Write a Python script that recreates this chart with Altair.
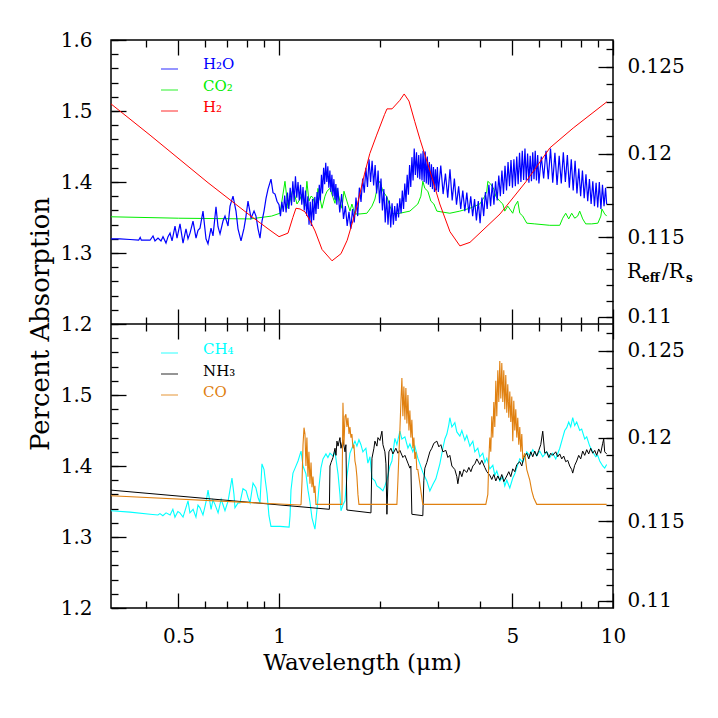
import altair as alt
import pandas as pd

FONT = "DejaVu Serif"

# ---------------- top panel data ----------------
h2o_wl = [0.314, 0.334, 0.358, 0.380, 0.384, 0.387, 0.411, 0.4195, 0.4253, 0.4342,
          0.4432, 0.4494, 0.4588, 0.4652, 0.4717, 0.4783, 0.4882, 0.4950, 0.5053, 0.5159,
          0.5266, 0.5339, 0.5414, 0.5527, 0.5643, 0.5721, 0.5800, 0.5921, 0.6045, 0.6129,
          0.6257, 0.6344, 0.6476, 0.6566, 0.6658, 0.6797, 0.6891, 0.7035, 0.7133, 0.7282,
          0.7434, 0.7537, 0.7695, 0.7857, 0.7965, 0.8075, 0.8245, 0.8418, 0.8533, 0.8652,
          0.8772, 0.8894, 0.9018, 0.9143, 0.9270, 0.9463, 0.9594, 0.9728, 0.9863,
          1.00, 1.01, 1.02, 1.03, 1.04, 1.05, 1.06, 1.07, 1.08, 1.09,
          1.10, 1.11, 1.12, 1.13, 1.14, 1.15, 1.16, 1.17, 1.18, 1.19,
          1.20, 1.21, 1.22, 1.23, 1.24, 1.25, 1.26, 1.27, 1.28, 1.29,
          1.30, 1.31, 1.32, 1.33, 1.34, 1.35, 1.36, 1.37, 1.38, 1.39,
          1.40, 1.41, 1.42, 1.43, 1.44, 1.45, 1.46, 1.47, 1.48, 1.49,
          1.50, 1.52, 1.54, 1.56, 1.58, 1.60, 1.62, 1.64, 1.66, 1.68,
          1.70, 1.72, 1.74, 1.76, 1.78, 1.80, 1.82, 1.84, 1.86, 1.88,
          1.90, 1.92, 1.94, 1.96, 1.98, 2.00, 2.02, 2.04, 2.06, 2.08,
          2.10, 2.12, 2.14, 2.16, 2.18, 2.20, 2.22, 2.24, 2.26, 2.28,
          2.30, 2.32, 2.34, 2.36, 2.38, 2.40, 2.42, 2.44, 2.46, 2.48,
          2.50, 2.52, 2.54, 2.56, 2.58, 2.60, 2.62, 2.64, 2.66, 2.68,
          2.70, 2.72, 2.74, 2.76, 2.78, 2.80, 2.82, 2.84, 2.86, 2.88,
          2.90, 2.92, 2.94, 2.96, 2.98, 3.00, 3.05, 3.10, 3.15, 3.20,
          3.25, 3.30, 3.35, 3.40, 3.45, 3.50, 3.55, 3.60, 3.65, 3.70,
          3.75, 3.80, 3.85, 3.90, 3.95, 4.00, 4.05, 4.10, 4.15, 4.20,
          4.25, 4.30, 4.35, 4.40, 4.45, 4.50, 4.55, 4.60, 4.65, 4.70,
          4.75, 4.80, 4.85, 4.90, 4.95, 5.00, 5.05, 5.10, 5.15, 5.20,
          5.25, 5.30, 5.35, 5.40, 5.45, 5.50, 5.55, 5.60, 5.65, 5.70,
          5.75, 5.80, 5.85, 5.90, 5.95, 6.00, 6.10, 6.20, 6.30, 6.40,
          6.50, 6.60, 6.70, 6.80, 6.90, 7.00, 7.10, 7.20, 7.30, 7.40,
          7.50, 7.60, 7.70, 7.80, 7.90, 8.00, 8.10, 8.20, 8.30, 8.40,
          8.50, 8.60, 8.70, 8.80, 8.90, 9.00, 9.10, 9.20, 9.30, 9.40,
          9.50, 9.57]
h2o_val = [1.320, 1.320, 1.319, 1.318, 1.322, 1.318, 1.318, 1.324, 1.317, 1.321,
           1.317, 1.323, 1.314, 1.323, 1.328, 1.317, 1.338, 1.321, 1.341, 1.314,
           1.334, 1.320, 1.328, 1.345, 1.321, 1.332, 1.335, 1.359, 1.320, 1.313,
           1.335, 1.324, 1.365, 1.337, 1.327, 1.345, 1.352, 1.338, 1.366, 1.380,
           1.359, 1.334, 1.317, 1.335, 1.352, 1.373, 1.349, 1.359, 1.352, 1.334,
           1.321, 1.345, 1.359, 1.377, 1.390, 1.404, 1.385, 1.383, 1.373,
           1.368, 1.352, 1.372, 1.358, 1.381, 1.357, 1.385, 1.362, 1.392, 1.367,
           1.401, 1.372, 1.408, 1.378, 1.400, 1.374, 1.396, 1.368, 1.393, 1.360,
           1.388, 1.352, 1.380, 1.340, 1.372, 1.338, 1.376, 1.346, 1.379, 1.355,
           1.386, 1.362, 1.396, 1.374, 1.410, 1.384, 1.420, 1.397, 1.427, 1.400,
           1.422, 1.392, 1.416, 1.386, 1.410, 1.380, 1.404, 1.375, 1.397, 1.368,
           1.392, 1.357, 1.383, 1.348, 1.366, 1.338, 1.358, 1.334, 1.362, 1.343,
           1.378, 1.352, 1.392, 1.372, 1.405, 1.385, 1.420, 1.393, 1.432, 1.400,
           1.430, 1.395, 1.424, 1.384, 1.416, 1.370, 1.405, 1.360, 1.390, 1.343,
           1.380, 1.340, 1.374, 1.336, 1.370, 1.340, 1.366, 1.345, 1.370, 1.350,
           1.377, 1.356, 1.388, 1.362, 1.398, 1.372, 1.410, 1.382, 1.424, 1.393,
           1.435, 1.402, 1.447, 1.410, 1.442, 1.406, 1.438, 1.404, 1.440, 1.402,
           1.444, 1.400, 1.443, 1.398, 1.436, 1.396, 1.428, 1.393, 1.425, 1.390,
           1.421, 1.386, 1.418, 1.388, 1.421, 1.386, 1.423, 1.383, 1.412, 1.378,
           1.418, 1.374, 1.405, 1.368, 1.394, 1.362, 1.388, 1.359, 1.385, 1.356,
           1.380, 1.352, 1.376, 1.346, 1.373, 1.342, 1.378, 1.352, 1.386, 1.362,
           1.396, 1.366, 1.398, 1.368, 1.401, 1.374, 1.409, 1.380, 1.416, 1.383,
           1.423, 1.388, 1.428, 1.394, 1.431, 1.392, 1.432, 1.394, 1.436, 1.397,
           1.441, 1.400, 1.444, 1.403, 1.447, 1.402, 1.440, 1.399, 1.437, 1.401,
           1.442, 1.404, 1.444, 1.402, 1.438, 1.398, 1.436, 1.405, 1.444, 1.404,
           1.447, 1.399, 1.441, 1.396, 1.437, 1.398, 1.442, 1.400, 1.438, 1.392,
           1.432, 1.388, 1.430, 1.384, 1.419, 1.380, 1.416, 1.377, 1.411, 1.373,
           1.404, 1.369, 1.401, 1.366, 1.399, 1.364, 1.400, 1.362, 1.396, 1.366,
           1.392, 1.369]

co2_wl = [0.314, 0.50, 0.82, 0.95, 1.007, 1.042, 1.064, 1.079, 1.101, 1.132,
          1.156, 1.172, 1.196, 1.212, 1.229, 1.247, 1.264, 1.290, 1.308, 1.345,
          1.373, 1.392, 1.421, 1.451, 1.471, 1.491, 1.522, 1.543, 1.565, 1.597,
          1.631, 1.653, 1.688, 1.747, 1.833, 1.898, 1.937, 1.978, 2.005, 2.047,
          2.104, 2.148, 2.193, 2.301, 2.465, 2.604, 2.659, 2.695, 2.733, 2.790,
          2.849, 2.908, 2.969, 3.052, 3.247, 3.479, 3.727, 3.992, 4.132, 4.190,
          4.219, 4.306, 4.397, 4.458, 4.582, 4.678, 4.742, 4.841, 5.009, 5.081,
          5.186, 5.259, 5.369, 5.519, 5.831, 6.466, 6.927, 7.070, 7.219, 7.369,
          7.523, 7.680, 7.839, 7.949, 8.115, 8.285, 8.635, 9.009, 9.198, 9.262,
          9.443, 9.574]
co2_val = [1.351, 1.349, 1.348, 1.352, 1.356, 1.401, 1.363, 1.373, 1.391, 1.369,
           1.376, 1.383, 1.366, 1.401, 1.373, 1.380, 1.378, 1.363, 1.391, 1.363,
           1.380, 1.387, 1.391, 1.378, 1.370, 1.391, 1.373, 1.363, 1.387, 1.373,
           1.359, 1.369, 1.355, 1.355, 1.356, 1.366, 1.376, 1.397, 1.401, 1.387,
           1.379, 1.366, 1.355, 1.356, 1.359, 1.369, 1.380, 1.401, 1.391, 1.387,
           1.373, 1.369, 1.359, 1.358, 1.356, 1.359, 1.363, 1.369, 1.380, 1.387,
           1.401, 1.397, 1.390, 1.380, 1.373, 1.369, 1.359, 1.366, 1.356, 1.366,
           1.373, 1.356, 1.352, 1.342, 1.341, 1.339, 1.339, 1.349, 1.356, 1.348,
           1.356, 1.349, 1.352, 1.359, 1.348, 1.341, 1.341, 1.342, 1.352, 1.362,
           1.355, 1.352]

h2_wl = [0.314, 0.411, 0.613, 0.824, 0.940, 1.000, 1.064, 1.100, 1.124, 1.156,
         1.196, 1.240, 1.282, 1.345, 1.441, 1.533, 1.600, 1.700, 1.800, 1.870,
         1.960, 2.070, 2.105, 2.180, 2.300, 2.370, 2.450, 2.550, 2.643, 2.830,
         3.030, 3.250, 3.480, 3.730, 4.590, 5.500, 6.470, 7.600, 9.590]
h2_val = [1.510, 1.466, 1.399, 1.352, 1.332, 1.323, 1.328, 1.350, 1.363, 1.362,
          1.358, 1.345, 1.331, 1.305, 1.289, 1.299, 1.318, 1.360, 1.410, 1.440,
          1.466, 1.495, 1.503, 1.503, 1.515, 1.524, 1.514, 1.485, 1.460, 1.416,
          1.369, 1.330, 1.310, 1.315, 1.355, 1.401, 1.448, 1.476, 1.513]

# ---------------- bottom panel data ----------------
ch4_wl = [0.314, 0.358, 0.411, 0.434, 0.440, 0.449, 0.459, 0.472, 0.481, 0.488,
          0.498, 0.505, 0.516, 0.527, 0.534, 0.541, 0.553, 0.564, 0.572, 0.580,
          0.592, 0.605, 0.613, 0.626, 0.634, 0.643, 0.657, 0.671, 0.680, 0.689,
          0.704, 0.713, 0.723, 0.733, 0.738, 0.754, 0.764, 0.780, 0.797, 0.807,
          0.819, 0.836, 0.853, 0.865, 0.877, 0.889, 0.902, 0.908, 0.921, 0.933,
          0.946, 1.007, 1.072, 1.079, 1.086, 1.101, 1.117, 1.140, 1.164, 1.180,
          1.204, 1.221, 1.238, 1.255, 1.281, 1.299, 1.317, 1.335, 1.354, 1.382,
          1.401, 1.421, 1.451, 1.471, 1.502, 1.522, 1.533, 1.554, 1.576, 1.597,
          1.631, 1.653, 1.688, 1.711, 1.735, 1.759, 1.783, 1.820, 1.845, 1.872,
          1.898, 1.937, 1.964, 2.005, 2.047, 2.075, 2.104, 2.148, 2.178, 2.223,
          2.254, 2.301, 2.333, 2.382, 2.432, 2.465, 2.516, 2.551, 2.604, 2.641,
          2.695, 2.733, 2.771, 2.829, 2.888, 2.949, 3.031, 3.094, 3.137, 3.181,
          3.224, 3.247, 3.293, 3.361, 3.407, 3.479, 3.527, 3.600, 3.650, 3.727,
          3.805, 3.857, 3.938, 3.992, 4.075, 4.132, 4.190, 4.277, 4.367, 4.427,
          4.488, 4.582, 4.678, 4.742, 4.808, 4.909, 5.011, 5.081, 5.186, 5.259,
          5.369, 5.519, 5.634, 5.751, 5.911, 6.035, 6.161, 6.333, 6.466, 6.601,
          6.738, 6.927, 7.070, 7.169, 7.268, 7.369, 7.471, 7.575, 7.680, 7.786,
          7.949, 8.059, 8.228, 8.342, 8.516, 8.694, 8.876, 8.999, 9.124, 9.314,
          9.443, 9.574]
ch4_val = [1.337, 1.335, 1.332, 1.331, 1.333, 1.330, 1.334, 1.331, 1.339, 1.328,
           1.336, 1.334, 1.328, 1.342, 1.351, 1.334, 1.339, 1.328, 1.345, 1.341,
           1.331, 1.350, 1.366, 1.339, 1.352, 1.346, 1.334, 1.353, 1.345, 1.337,
           1.351, 1.366, 1.383, 1.360, 1.341, 1.348, 1.348, 1.368, 1.365, 1.356,
           1.348, 1.376, 1.369, 1.356, 1.348, 1.403, 1.395, 1.383, 1.361, 1.330,
           1.315, 1.315, 1.314, 1.330, 1.366, 1.390, 1.397, 1.407, 1.421, 1.400,
           1.389, 1.366, 1.349, 1.327, 1.311, 1.338, 1.370, 1.397, 1.410, 1.417,
           1.412, 1.418, 1.414, 1.420, 1.389, 1.360, 1.337, 1.345, 1.351, 1.385,
           1.418, 1.425, 1.435, 1.428, 1.437, 1.430, 1.420, 1.425, 1.404, 1.413,
           1.383, 1.379, 1.372, 1.369, 1.365, 1.372, 1.380, 1.400, 1.407, 1.439,
           1.430, 1.449, 1.438, 1.441, 1.425, 1.431, 1.420, 1.428, 1.411, 1.403,
           1.391, 1.385, 1.379, 1.365, 1.374, 1.382, 1.403, 1.425, 1.438, 1.445,
           1.458, 1.468, 1.455, 1.461, 1.448, 1.442, 1.450, 1.436, 1.443, 1.428,
           1.435, 1.420, 1.425, 1.413, 1.418, 1.405, 1.411, 1.396, 1.401, 1.387,
           1.393, 1.379, 1.385, 1.372, 1.380, 1.369, 1.383, 1.389, 1.402, 1.410,
           1.405, 1.420, 1.414, 1.423, 1.414, 1.421, 1.413, 1.420, 1.412, 1.418,
           1.410, 1.425, 1.440, 1.450, 1.454, 1.462, 1.455, 1.468, 1.457, 1.462,
           1.450, 1.452, 1.438, 1.441, 1.428, 1.420, 1.413, 1.415, 1.407, 1.400,
           1.397, 1.402]

nh3_wl = [0.314, 1.415, 1.421, 1.432, 1.451, 1.471, 1.481, 1.491, 1.502, 1.522,
          1.533, 1.554, 1.576, 1.586, 1.597, 1.885, 1.898, 1.924, 1.937, 1.964,
          1.978, 2.005, 2.033, 2.047, 2.075, 2.090, 2.104, 2.133, 2.163, 2.193,
          2.238, 2.270, 2.301, 2.349, 2.382, 2.432, 2.465, 2.482, 2.499, 2.695,
          2.714, 2.733, 2.771, 2.829, 2.868, 2.908, 2.969, 3.010, 3.052, 3.094,
          3.159, 3.203, 3.247, 3.293, 3.361, 3.407, 3.431, 3.479, 3.527, 3.575,
          3.650, 3.701, 3.753, 3.805, 3.857, 3.911, 3.992, 4.047, 4.132, 4.190,
          4.277, 4.336, 4.397, 4.458, 4.520, 4.582, 4.646, 4.710, 4.808, 4.875,
          4.943, 5.011, 5.081, 5.151, 5.259, 5.332, 5.406, 5.519, 5.595, 5.673,
          5.751, 5.831, 5.911, 5.994, 6.077, 6.161, 6.247, 6.333, 6.421, 6.510,
          6.601, 6.738, 6.832, 6.927, 7.023, 7.120, 7.219, 7.319, 7.420, 7.523,
          7.575, 7.680, 7.786, 7.894, 8.004, 8.115, 8.228, 8.342, 8.458, 8.575,
          8.694, 8.815, 8.937, 9.061, 9.187, 9.314, 9.379, 9.443, 9.574]
nh3_val = [1.366, 1.339, 1.400, 1.405, 1.412, 1.425, 1.415, 1.435, 1.428, 1.440,
           1.425, 1.437, 1.420, 1.430, 1.338, 1.334, 1.411, 1.425, 1.435, 1.428,
           1.440, 1.436, 1.449, 1.430, 1.420, 1.403, 1.332, 1.420, 1.425, 1.417,
           1.425, 1.418, 1.422, 1.412, 1.415, 1.404, 1.397, 1.400, 1.332, 1.330,
           1.380, 1.397, 1.405, 1.420, 1.425, 1.432, 1.435, 1.427, 1.430, 1.420,
           1.422, 1.412, 1.415, 1.400, 1.395, 1.385, 1.375, 1.393, 1.385, 1.395,
           1.391, 1.398, 1.392, 1.400, 1.403, 1.410, 1.402, 1.408, 1.398, 1.392,
           1.387, 1.381, 1.388, 1.379, 1.386, 1.380, 1.388, 1.378, 1.386, 1.392,
           1.385, 1.396, 1.392, 1.402, 1.406, 1.400, 1.412, 1.418, 1.410, 1.420,
           1.413, 1.421, 1.414, 1.422, 1.430, 1.449, 1.418, 1.420, 1.412, 1.418,
           1.415, 1.420, 1.413, 1.417, 1.410, 1.414, 1.406, 1.408, 1.400, 1.395,
           1.390, 1.401, 1.407, 1.415, 1.410, 1.421, 1.415, 1.423, 1.417, 1.425,
           1.418, 1.422, 1.415, 1.424, 1.418, 1.432, 1.438, 1.420, 1.417]

co_wl = [0.314, 1.156, 1.164, 1.172, 1.180, 1.188, 1.196, 1.204, 1.212, 1.221,
         1.229, 1.238, 1.247, 1.255, 1.264, 1.273, 1.281, 1.290, 1.543, 1.554,
         1.565, 1.576, 1.586, 1.597, 1.608, 1.620, 1.631, 1.642, 1.653, 1.665,
         1.676, 1.688, 1.699, 1.711, 1.723, 1.735, 2.254, 2.270, 2.285, 2.301,
         2.317, 2.333, 2.349, 2.365, 2.382, 2.398, 2.415, 2.432, 2.449, 2.465,
         2.482, 2.499, 2.516, 2.534, 2.551, 2.569, 2.586, 2.604, 2.641, 2.677,
         2.695, 4.161, 4.219, 4.249, 4.277, 4.306, 4.336, 4.367, 4.397, 4.427,
         4.458, 4.488, 4.520, 4.551, 4.582, 4.614, 4.646, 4.678, 4.710, 4.742,
         4.775, 4.808, 4.841, 4.875, 4.909, 4.943, 4.977, 5.011, 5.046, 5.081,
         5.116, 5.151, 5.186, 5.222, 5.259, 5.295, 5.332, 5.369, 5.443, 5.519,
         5.595, 5.634, 5.712, 5.791, 5.911, 9.574]
co_val = [1.358, 1.345, 1.346, 1.379, 1.430, 1.454, 1.445, 1.400, 1.440, 1.385,
          1.420, 1.375, 1.405, 1.370, 1.385, 1.362, 1.372, 1.346, 1.346, 1.489,
          1.430, 1.470, 1.473, 1.455, 1.468, 1.445, 1.455, 1.440, 1.445, 1.425,
          1.430, 1.407, 1.400, 1.385, 1.360, 1.346, 1.346, 1.380, 1.415, 1.450,
          1.490, 1.524, 1.470, 1.512, 1.465, 1.510, 1.460, 1.500, 1.450, 1.478,
          1.440, 1.465, 1.425, 1.440, 1.410, 1.420, 1.395, 1.395, 1.375, 1.355,
          1.346, 1.346, 1.360, 1.410, 1.440, 1.420, 1.470, 1.440, 1.490, 1.455,
          1.520, 1.470, 1.535, 1.490, 1.548, 1.495, 1.545, 1.490, 1.535, 1.480,
          1.528, 1.475, 1.515, 1.468, 1.505, 1.462, 1.498, 1.435, 1.492, 1.450,
          1.480, 1.440, 1.468, 1.430, 1.455, 1.420, 1.445, 1.410, 1.418, 1.395,
          1.385, 1.380, 1.365, 1.355, 1.346, 1.346]

# ---------------- axes ----------------
X_DOMAIN = [0.314, 10]
PANEL_RANGE = [1.2, 1.6]          # each panel spans 1.2 .. 1.6 (percent absorption)
PANEL_SHIFT = 0.4                 # lower panel is stacked one panel-range below the upper one
Y_DOMAIN = [PANEL_RANGE[0] - PANEL_SHIFT, PANEL_RANGE[1]]
X_MAJOR = [0.5, 1, 5, 10]
X_MINOR = [0.4, 0.6, 0.7, 0.8, 0.9, 2, 3, 4, 6, 7, 8, 9]
Y_LABELS_TOP = [1.2, 1.3, 1.4, 1.5, 1.6]
Y_LABELS_BOTTOM = [1.2, 1.3, 1.4, 1.5]
Y_MAJOR = [1.2, 1.3, 1.4, 1.5, 1.6]
Y_MINOR = [round(1.2 + 0.02 * i, 2) for i in range(21)]
R_MAJOR = [0.11, 0.115, 0.12, 0.125]
R_MINOR = [round(0.110 + 0.001 * i, 3) for i in range(17)]
R_MAJOR_V = [round(r * r * 100, 6) for r in R_MAJOR]
R_MINOR_V = [round(r * r * 100, 6) for r in R_MINOR]


def both_panels(vals, top=True, bottom=True):
    out = []
    if top:
        out += list(vals)
    if bottom:
        out += [round(v - PANEL_SHIFT, 6) for v in vals]
    return sorted(set(out))


W, H = 502, 568
HP = H / 2

xscale = alt.Scale(type="log", domain=X_DOMAIN, nice=False)
yscale = alt.Scale(domain=Y_DOMAIN, nice=False, zero=False)


def line_layer(wl, val, color, width=1.0, lower=False):
    df = pd.DataFrame(list(zip(wl, val)), columns=["wl", "val"])
    base = alt.Chart(df)
    if lower:
        base = base.transform_calculate(pos=f"datum.val - {PANEL_SHIFT}")
    else:
        base = base.transform_calculate(pos="datum.val")
    return base.mark_line(color=color, strokeWidth=width, clip=True).encode(
        x=alt.X("wl:Q", scale=xscale, axis=None),
        y=alt.Y("pos:Q", scale=yscale, axis=None),
    )


def y_axis_layer(axis):
    return alt.Chart(alt.Data(values=[{"v": Y_DOMAIN[0]}, {"v": Y_DOMAIN[1]}])).mark_point(
        opacity=0).encode(y=alt.Y("v:Q", scale=yscale, axis=axis))


def x_axis_layer(axis):
    return alt.Chart(alt.Data(values=[{"w": X_DOMAIN[0]}, {"w": X_DOMAIN[1]}])).mark_point(
        opacity=0).encode(x=alt.X("w:Q", scale=xscale, axis=axis))


def tick_axis(values, orient, size, offset=None):
    return alt.Axis(values=values, orient=orient, labels=False, domain=False, ticks=True,
                    tickSize=size, offset=-size if offset is None else offset,
                    tickColor="black", tickWidth=1.3, grid=False, title=None)


SHIFT_EXPR = f"(datum.value < {PANEL_RANGE[0] - 0.01} ? datum.value + {PANEL_SHIFT} : datum.value)"

axis_layers = [
    y_axis_layer(tick_axis(both_panels(Y_MAJOR), "left", 15)),
    y_axis_layer(tick_axis(both_panels(Y_MINOR), "left", 7)),
    y_axis_layer(tick_axis(both_panels(R_MAJOR_V), "right", 15)),
    y_axis_layer(tick_axis(both_panels(R_MINOR_V), "right", 7)),
    x_axis_layer(tick_axis(X_MAJOR, "bottom", 15)),
    x_axis_layer(tick_axis(X_MINOR, "bottom", 7)),
    x_axis_layer(tick_axis(X_MAJOR, "top", 15)),
    x_axis_layer(tick_axis(X_MINOR, "top", 7)),
    x_axis_layer(tick_axis(X_MAJOR, "top", 15, -HP)),
    x_axis_layer(tick_axis(X_MINOR, "top", 7, -HP)),
    x_axis_layer(tick_axis(X_MAJOR, "bottom", 15, -HP)),
    x_axis_layer(tick_axis(X_MINOR, "bottom", 7, -HP)),
    y_axis_layer(alt.Axis(values=both_panels(Y_LABELS_TOP, bottom=False) +
                          [round(v - PANEL_SHIFT, 6) for v in Y_LABELS_BOTTOM],
                          orient="left", ticks=False, domain=False,
                          labelExpr=f"format({SHIFT_EXPR}, '.1f')",
                          labelPadding=19, labelOverlap=False, grid=False, title=None)),
    y_axis_layer(alt.Axis(values=both_panels(R_MAJOR_V), orient="right", ticks=False,
                          domain=False,
                          labelExpr=f"format(sqrt({SHIFT_EXPR}/100), '.3~f')",
                          labelPadding=14, labelOverlap=False, grid=False, title=None)),
    x_axis_layer(alt.Axis(values=X_MAJOR, orient="bottom", ticks=False, domain=False,
                          format="~g", labelFlush=False, labelPadding=18, labelOverlap=False,
                          grid=False, title="Wavelength (μm)", titlePadding=5,
                          titleFontSize=23)),
]


def text_layer(txt, x, y, size=15, color="black", **kw):
    return alt.Chart(alt.Data(values=[{}])).mark_text(
        text=txt, color=color, font=FONT, fontSize=size, **kw
    ).encode(x=alt.value(x), y=alt.value(y))


def legend(entries, line_ys, text_ys):
    layers = []
    for (name, color), ly, ty in zip(entries, line_ys, text_ys):
        layers.append(alt.Chart(alt.Data(values=[{}])).mark_rule(
            color=color, strokeWidth=1.2, opacity=0.7).encode(
            x=alt.value(50), x2=alt.value(67), y=alt.value(ly)))
        layers.append(text_layer(name, 92, ty, 15, color, align="left", baseline="alphabetic"))
    return layers


top_entries = [("H₂O", "#0000ff"), ("CO₂", "#00ee00"), ("H₂", "#ff0000")]
bot_entries = [("CH₄", "#00ffff"), ("NH₃", "#000000"), ("CO", "#e08010")]

divider = alt.Chart(alt.Data(values=[{}])).mark_rule(color="black", strokeWidth=1.5).encode(
    x=alt.value(0), x2=alt.value(W), y=alt.value(HP))

chart = alt.layer(
    line_layer(co2_wl, co2_val, "#00ee00"),
    line_layer(h2o_wl, h2o_val, "#0000ff", 1.2),
    line_layer(h2_wl, h2_val, "#ff0000"),
    line_layer(ch4_wl, ch4_val, "#00ffff", 1.1, lower=True),
    line_layer(nh3_wl, nh3_val, "#000000", lower=True),
    line_layer(co_wl, co_val, "#e08010", 1.1, lower=True),
    divider,
    *axis_layers,
    *legend(top_entries, [29, 50, 71], [29, 51, 72]),
    *legend(bot_entries, [HP + 29, HP + 50, HP + 71], [HP + 30, HP + 52, HP + 73]),
    text_layer("Percent Absorption", -70, HP, 26, angle=270, align="center", baseline="middle"),
    text_layer("R", 516, 238, 20, align="left", baseline="alphabetic"),
    text_layer("eff", 531, 242, 12, align="left", baseline="alphabetic", fontWeight="bold"),
    text_layer("/R", 551, 238, 20, align="left", baseline="alphabetic"),
    text_layer("s", 575, 242, 12, align="left", baseline="alphabetic", fontWeight="bold"),
).resolve_axis(x="independent", y="independent").properties(
    width=W, height=H, padding={"left": 20, "top": 22, "right": 4, "bottom": 4}
).configure_view(
    stroke="black", strokeWidth=1.5
).configure_axis(
    labelFont=FONT, labelFontSize=20, labelColor="black",
    titleFont=FONT, titleFontSize=20, titleColor="black", titleFontWeight="normal",
)

chart.save("out.html", embed_options={"renderer": "svg", "actions": False})
